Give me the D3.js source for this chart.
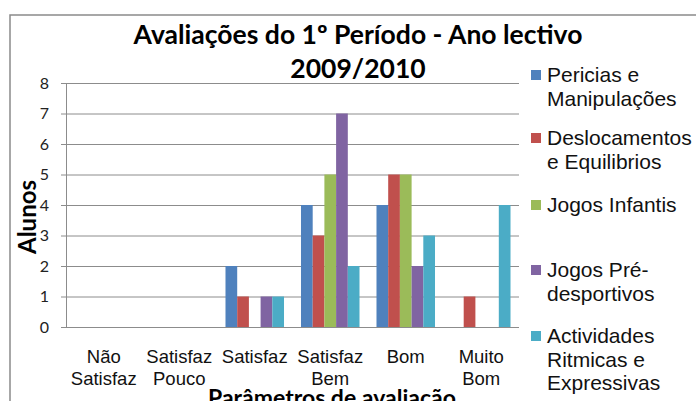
<!DOCTYPE html>
<html><head><meta charset="utf-8">
<script src="https://cdn.jsdelivr.net/npm/d3@7"></script>
<style>html,body{margin:0;padding:0;background:#fff;overflow:hidden}</style>
</head><body>
<svg id="c" width="696" height="401"></svg>
<script>
const categories = ["Não Satisfaz", "Satisfaz Pouco", "Satisfaz", "Satisfaz Bem", "Bom", "Muito Bom"];
const categoryLines = [["Não","Satisfaz"],["Satisfaz","Pouco"],["Satisfaz"],["Satisfaz","Bem"],["Bom"],["Muito","Bom"]];
const seriesNames = ["Pericias e Manipulações","Deslocamentos e Equilibrios","Jogos Infantis","Jogos Pré-desportivos","Actividades Ritmicas e Expressivas"];
const legendLines = [["Pericias e","Manipulações"],["Deslocamentos","e Equilibrios"],["Jogos Infantis"],["Jogos Pré-","desportivos"],["Actividades","Ritmicas e","Expressivas"]];
const periciasValues = [0,0,2,4,4,0];
const deslocamentosValues = [0,0,1,3,5,1];
const jogosInfantisValues = [0,0,0,5,5,0];
const jogosPreValues = [0,0,1,7,2,0];
const actividadesValues = [0,0,1,2,3,4];
const yTicks = [0,1,2,3,4,5,6,7,8];
const colors = ["#4F81BD","#C0504D","#9BBB59","#8064A2","#4BACC6"];
const titleLines = ["Avaliações do 1º Período - Ano lectivo","2009/2010"];
const yTitle = "Alunos";
const xTitle = "Parâmetros de avaliação";

const series = [periciasValues, deslocamentosValues, jogosInfantisValues, jogosPreValues, actividadesValues];
const svg = d3.select("#c");

// chart border
svg.append("rect").attr("x",10).attr("y",15).attr("width",720).attr("height",420)
  .attr("fill","none").attr("stroke","#8a8a8a").attr("stroke-width",1.5);

const pLeft = 66, pRight = 519, pTop = 83, pBottom = 327;
const x = d3.scaleBand().domain(categories).range([pLeft,pRight]).paddingInner(0.225).paddingOuter(0.1125);
const xs = d3.scaleBand().domain(d3.range(series.length)).range([0, x.bandwidth()]);
const y = d3.scaleLinear().domain([0,8]).range([pBottom, pTop]);

// gridlines
svg.append("g").selectAll("line").data(yTicks).join("line")
  .attr("x1",pLeft-5).attr("x2",pRight).attr("y1",d=>y(d)+0.5).attr("y2",d=>y(d)+0.5)
  .attr("stroke","#8c8c8c").attr("stroke-width",1);
// y axis line
svg.append("line").attr("x1",pLeft+0.5).attr("x2",pLeft+0.5).attr("y1",pTop).attr("y2",pBottom)
  .attr("stroke","#8c8c8c");

// y tick labels
svg.append("g").selectAll("text").data(yTicks).join("text")
  .attr("x",49).attr("y",d=>y(d)).attr("dy","0.35em").attr("text-anchor","end")
  .attr("font-family","Lato, 'Open Sans', sans-serif").attr("font-size",16).attr("fill","#222")
  .text(d=>d);

// bars
const g = svg.append("g");
series.forEach((vals,si)=>{
  g.append("g").selectAll("rect").data(vals).join("rect")
    .attr("x",(d,i)=>x(categories[i])+xs(si))
    .attr("y",d=>y(d))
    .attr("width",xs.bandwidth())
    .attr("height",d=>y(0)-y(d))
    .attr("fill",colors[si]);
});

// baseline on top
svg.append("line").attr("x1",pLeft).attr("x2",pRight).attr("y1",y(0)+0.5).attr("y2",y(0)+0.5)
  .attr("stroke","#8c8c8c");

// x labels
categories.forEach((c,i)=>{
  const t = svg.append("text").attr("text-anchor","middle")
    .attr("font-family","'Liberation Sans', Arial, sans-serif").attr("font-size",18.5).attr("fill","#111");
  categoryLines[i].forEach((ln,j)=>{
    t.append("tspan").attr("x",x(c)+x.bandwidth()/2).attr("y",363+j*21.5).text(ln);
  });
});

// title
const titleFont = "Lato, 'Open Sans', sans-serif";
const tl1 = svg.append("text").attr("x",358).attr("y",44).attr("text-anchor","middle")
  .attr("font-family",titleFont).attr("font-weight","bold").attr("font-size",26).attr("fill","#000").text(titleLines[0]);
const tl2 = svg.append("text").attr("x",358).attr("y",78).attr("text-anchor","middle")
  .attr("font-family",titleFont).attr("font-weight","bold").attr("font-size",26).attr("fill","#000").text(titleLines[1]);
const w1 = tl1.node().getComputedTextLength();
const fs = 26*449/w1;
tl1.attr("font-size",fs); tl2.attr("font-size",fs);

// axis titles
svg.append("text").attr("transform","translate(36,217) rotate(-90)").attr("text-anchor","middle")
  .attr("font-family",titleFont).attr("font-weight","bold").attr("font-size",24).attr("fill","#000").text(yTitle);
svg.append("text").attr("x",332).attr("y",406).attr("text-anchor","middle")
  .attr("font-family",titleFont).attr("font-weight","bold").attr("font-size",23).attr("fill","#000").text(xTitle);

// legend
const legendBase = [82,145,212,277,343];
const lg = svg.append("g");
seriesNames.forEach((s,i)=>{
  lg.append("rect").attr("x",531).attr("y",legendBase[i]-12).attr("width",10).attr("height",10).attr("fill",colors[i]);
  const t = lg.append("text").attr("font-family","'Liberation Sans', Arial, sans-serif").attr("font-size",21).attr("fill","#111");
  legendLines[i].forEach((ln,j)=>{
    t.append("tspan").attr("x",547).attr("y",legendBase[i]+j*23.5).text(ln);
  });
});
</script>
</body></html>
